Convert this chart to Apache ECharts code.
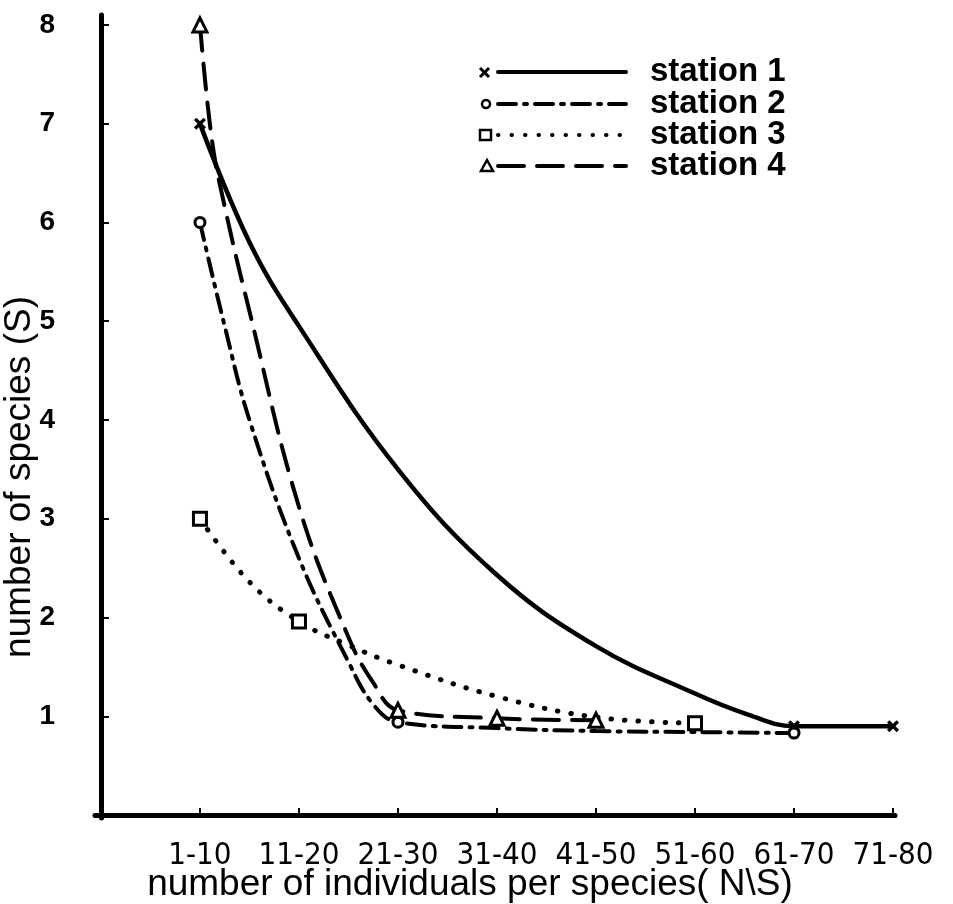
<!DOCTYPE html>
<html>
<head>
<meta charset="utf-8">
<script src="https://cdn.jsdelivr.net/npm/echarts@6/dist/echarts.min.js"></script>
<style>
    html, body { margin: 0; padding: 0; background: #fff; }
    #main { width: 953px; height: 904px; }
</style>
</head>
<body>
<div id="main"></div>
<script type="text/javascript">
// category labels on the x axis (value 1..8)
var xTickLabels = ['1-10', '11-20', '21-30', '31-40', '41-50', '51-60', '61-70', '71-80'];
var xTicks = [1, 2, 3, 4, 5, 6, 7, 8];
var yTicks = [1, 2, 3, 4, 5, 6, 7, 8];
var stationNames = ['station 1', 'station 2', 'station 3', 'station 4'];

// station 1 (solid, x marks)
var s1X = [1, 1.5, 2, 3, 4, 5, 6, 6.5, 7, 8];
var s1Y = [7.0, 5.8, 4.95, 3.5, 2.43, 1.71, 1.23, 1.03, 0.9, 0.9];
var s1Marked = [1, 7, 8];

// station 2 (dash-dot, circles)
var s2X = [1, 1.25, 1.5, 2, 2.5, 2.75, 3, 4, 5, 6, 7];
var s2Y = [6.0, 4.95, 4.0, 2.6, 1.55, 1.12, 0.94, 0.88, 0.85, 0.84, 0.83];
var s2Marked = [1, 3, 7];

// station 3 (dotted, squares)
var s3X = [1, 1.5, 2, 2.5, 3, 4, 5, 6];
var s3Y = [3.0, 2.36, 1.96, 1.72, 1.52, 1.2, 0.99, 0.93];
var s3Marked = [1, 2, 6];

// station 4 (dashed, triangles)
var s4X = [1, 1.12, 1.25, 1.5, 2, 2.5, 2.75, 3, 4, 5];
var s4Y = [8.0, 6.84, 6.16, 5.1, 3.12, 1.8, 1.34, 1.06, 0.98, 0.96];
var s4Marked = [1, 3, 4, 5];

var crossPath = 'path://M0,2L2,0L5,3L8,0L10,2L7,5L10,8L8,10L5,7L2,10L0,8L3,5Z';

function build(xs, ys, marked, sym) {
    return xs.map(function (x, i) {
        return { value: [x, ys[i]], symbol: marked.indexOf(x) >= 0 ? sym : 'none' };
    });
}

var dash2 = [18, 8, 3, 8];
var dash3 = [0.5, 13];
var dash4 = [26, 13];

function lineSeries(name, data, dash, width, size, filled) {
    return {
        name: name,
        type: 'line',
        smooth: 0.4,
        data: data,
        symbolSize: size,
        lineStyle: { color: '#000', width: width, type: dash || 'solid', cap: 'round' },
        itemStyle: { color: filled ? '#000' : '#fff', borderColor: '#000', borderWidth: filled ? 0 : 3 }
    };
}

var legendY = [72, 104, 135, 166];
var legendDash = [null, dash2, dash3, dash4];
var graphics = [];
stationNames.forEach(function (n, i) {
    var y = legendY[i];
    graphics.push({
        type: 'line',
        shape: { x1: 498, y1: y, x2: 626, y2: y },
        style: { stroke: '#000', lineWidth: 4, lineDash: legendDash[i], lineCap: 'round' }
    });
    graphics.push({
        type: 'text', x: 650, y: y,
        style: { text: n, font: 'bold 33px "Liberation Sans"', fill: '#000',
                 align: 'left', verticalAlign: 'middle', textAlign: 'left', textVerticalAlign: 'middle' }
    });
});
// legend symbols
graphics.push({ type: 'line', shape: { x1: 480, y1: 68, x2: 489, y2: 77 }, style: { stroke: '#000', lineWidth: 3 } });
graphics.push({ type: 'line', shape: { x1: 489, y1: 68, x2: 480, y2: 77 }, style: { stroke: '#000', lineWidth: 3 } });
graphics.push({ type: 'circle', shape: { cx: 486, cy: 104, r: 4 }, style: { fill: '#fff', stroke: '#000', lineWidth: 2.5 } });
graphics.push({ type: 'rect', shape: { x: 480, y: 130, width: 11, height: 10 }, style: { fill: '#fff', stroke: '#000', lineWidth: 2.5 } });
graphics.push({ type: 'polygon', shape: { points: [[487, 160], [481, 171], [493, 171]] }, style: { fill: '#fff', stroke: '#000', lineWidth: 2.5 } });
// axis names
graphics.push({
    type: 'text', x: 20, y: 477, rotation: Math.PI / 2,
    style: { text: 'number of species (S)', font: '37px "Liberation Sans"', fill: '#000',
             align: 'center', verticalAlign: 'middle', textAlign: 'center', textVerticalAlign: 'middle' }
});
graphics.push({
    type: 'text', x: 470, y: 885,
    style: { text: 'number of individuals per species( N\\S)', font: '37px "Liberation Sans"', fill: '#000',
             align: 'center', verticalAlign: 'middle', textAlign: 'center', textVerticalAlign: 'middle' }
});

var myChart = echarts.init(document.getElementById('main'));
var option = {
    animation: false,
    backgroundColor: '#fff',
    grid: { left: 95, right: 58, top: 15, bottom: 86 },
    xAxis: {
        type: 'value',
        min: -0.06,
        max: 8.02,
        splitLine: { show: false },
        axisLine: { lineStyle: { color: '#000', width: 5 } },
        axisTick: { inside: true, length: 7, customValues: xTicks, lineStyle: { color: '#000', width: 2 } },
        axisLabel: {
            customValues: xTicks,
            margin: 22,
            color: '#000',
            fontSize: 31,
            fontFamily: '"Liberation Sans Narrow", "DejaVu Sans Condensed", sans-serif',
            formatter: function (v) { return xTickLabels[Math.round(v) - 1]; }
        }
    },
    yAxis: {
        type: 'value',
        min: -0.03,
        max: 8.1,
        splitLine: { show: false },
        axisLine: { lineStyle: { color: '#000', width: 5 } },
        axisTick: { inside: true, length: 8, customValues: yTicks, lineStyle: { color: '#000', width: 2 } },
        axisLabel: {
            customValues: yTicks,
            margin: 40,
            color: '#000',
            fontSize: 28,
            fontWeight: 'bold',
            fontFamily: '"Liberation Sans", sans-serif'
        }
    },
    graphic: graphics,
    series: [
        lineSeries(stationNames[0], build(s1X, s1Y, s1Marked, crossPath), null, 4.5, 12, true),
        lineSeries(stationNames[1], build(s2X, s2Y, s2Marked, 'circle'), dash2, 4, 10, false),
        lineSeries(stationNames[2], build(s3X, s3Y, s3Marked, 'rect'), dash3, 5, 13, false),
        lineSeries(stationNames[3], build(s4X, s4Y, s4Marked, 'triangle'), dash4, 4, 14, false)
    ]
};
myChart.setOption(option);
</script>
</body>
</html>
